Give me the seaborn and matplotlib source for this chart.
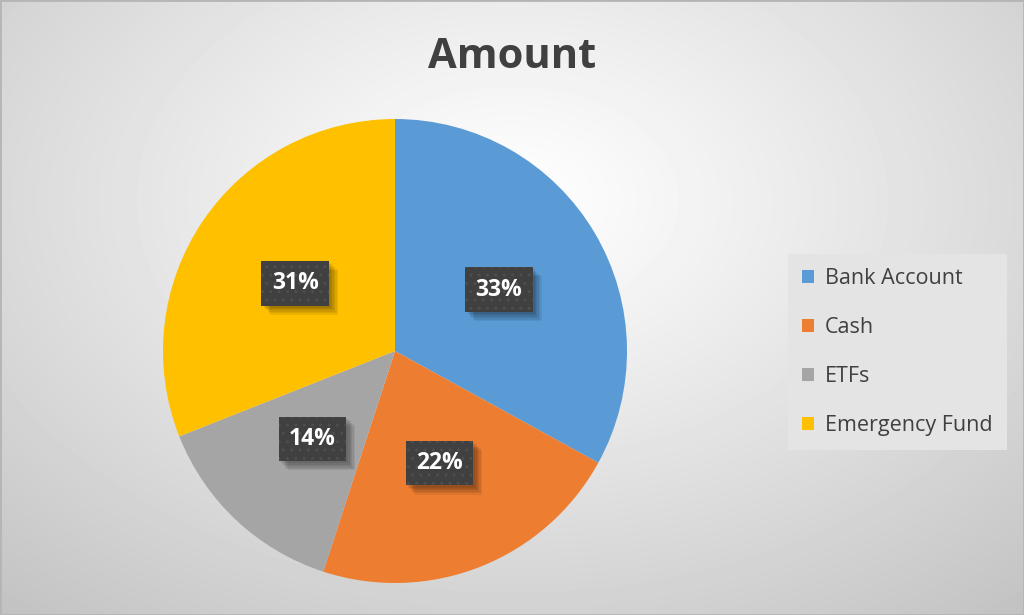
import numpy as np
import matplotlib
matplotlib.use("Agg")
import matplotlib.pyplot as plt
import matplotlib.patheffects as pe
import seaborn as sns

# chart data
categories = ["Bank Account", "Cash", "ETFs", "Emergency Fund"]
amounts = [33, 22, 14, 31]
colors = ["#5B9BD5", "#ED7D31", "#A5A5A5", "#FFC000"]
title = "Amount"

sns.set_theme(style="white")
plt.rcParams["font.family"] = ["Open Sans", "DejaVu Sans"]

fig = plt.figure(figsize=(10.24, 6.15), dpi=100)

# radial gradient background
bg = fig.add_axes([0, 0, 1, 1], zorder=-10)
yy, xx = np.mgrid[0:615, 0:1024]
d = np.sqrt(((xx - 512) / 1024) ** 2 + ((yy - 200) / 700) ** 2)
d = np.clip(d / d.max(), 0, 1)
shade = 1.0 - 0.24 * d ** 1.1
bg.imshow(shade, cmap="gray", vmin=0, vmax=1, aspect="auto",
          extent=[0, 1, 0, 1], origin="upper")
for s in bg.spines.values():
    s.set_visible(True)
    s.set_color("#b5b5b5")
    s.set_linewidth(2)
bg.set_xticks([])
bg.set_yticks([])

# pie
ax = fig.add_axes([(395 - 232) / 1024, (264 - 232) / 615, 464 / 1024, 464 / 615])

wedges, _, autotexts = ax.pie(
    amounts, colors=colors, startangle=90, counterclock=False,
    radius=1, autopct="%1.0f%%", pctdistance=0.52,
    wedgeprops=dict(linewidth=0),
    textprops=dict(color="white", fontsize=16.5, fontweight="bold"),
)
ax.set_xlim(-1, 1)
ax.set_ylim(-1, 1)
ax.set_aspect("equal")
ax.axis("off")

# soft shadow (several offset copies, hatch removed)
shadow = [pe.SimplePatchShadow(offset=(k, -k), shadow_rgbFace="#000000",
                               alpha=0.07, hatch=None)
          for k in (1.5, 2.5, 3.5, 4.5, 5.5, 6.5)]
for t in autotexts:
    t.set_bbox(dict(boxstyle="square,pad=0.45", fc="#404040", ec="#4e4e4e",
                    lw=0, hatch=".."))
    t.get_bbox_patch().set_path_effects(shadow + [pe.Normal()])

fig.text(0.5, 1 - 57 / 615, title, ha="center", va="center",
         fontsize=30, fontweight="bold", color="#404040")

leg = fig.legend(wedges, categories, loc="center left",
                 bbox_to_anchor=(794 / 1024, 1 - 352 / 615),
                 frameon=True, fontsize=15.5, handlelength=0.6, handleheight=0.6,
                 handletextpad=0.5, labelspacing=1.3, borderpad=0.35,
                 borderaxespad=0, labelcolor="#404040")
leg.get_frame().set_facecolor("#e4e4e4")
leg.get_frame().set_edgecolor("none")
leg.get_frame().set_alpha(1)
leg.get_frame().set_boxstyle("square")

fig.savefig("out.png", dpi=100)
